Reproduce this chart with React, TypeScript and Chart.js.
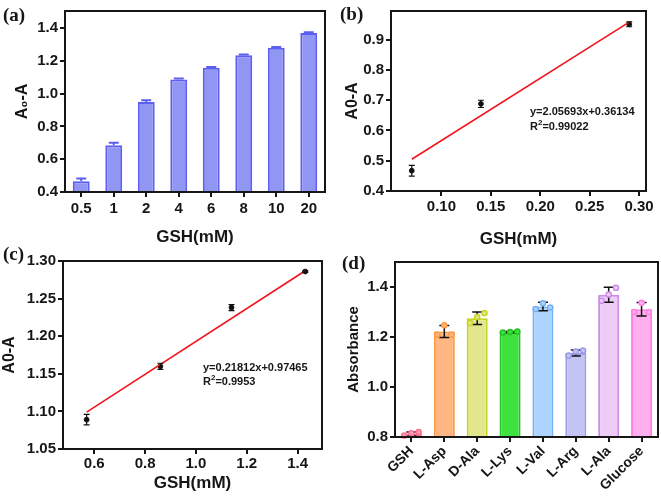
import React, { useEffect, useRef } from 'react';
import { Chart, registerables } from 'chart.js';
Chart.register(...registerables);

const FONT = "'Liberation Sans', Arial, Helvetica, sans-serif";
const INK = '#161616';
const TICK_SIZE = 15;

// ---------- panel (a) ----------
const aCategories = ['0.5', '1', '2', '4', '6', '8', '10', '20'];
const aValues = [0.465, 0.685, 0.95, 1.087, 1.158, 1.235, 1.281, 1.371];
const aErrors = [0.017, 0.015, 0.01, 0.006, 0.005, 0.005, 0.004, 0.005];
const aYTicks = [0.4, 0.6, 0.8, 1.0, 1.2, 1.4];

// ---------- panel (b) ----------
const bX = [0.07, 0.14, 0.29];
const bY = [0.467, 0.688, 0.951];
const bErr = [0.018, 0.012, 0.008];
const bFitX = [0.07, 0.29];
const bFitY = [0.505, 0.958];
const bXTicks = [0.1, 0.15, 0.2, 0.25, 0.3];
const bYTicks = [0.4, 0.5, 0.6, 0.7, 0.8, 0.9];

// ---------- panel (c) ----------
const cX = [0.57, 0.86, 1.14, 1.43];
const cY = [1.089, 1.16, 1.238, 1.286];
const cErr = [0.007, 0.004, 0.004, 0.001];
const cFitX = [0.57, 1.43];
const cFitY = [1.099, 1.287];
const cXTicks = [0.6, 0.8, 1.0, 1.2, 1.4];
const cYTicks = [1.05, 1.1, 1.15, 1.2, 1.25, 1.3];

// ---------- panel (d) ----------
const dCategories = ['GSH', 'L-Asp', 'D-Ala', 'L-Lys', 'L-Val', 'L-Arg', 'L-Ala', 'Glucose'];
const dValues = [0.812, 1.222, 1.275, 1.219, 1.322, 1.136, 1.369, 1.311];
const dErrors = [0.008, 0.024, 0.025, 0.003, 0.017, 0.012, 0.03, 0.027];
const dRep1 = [0.806, 1.21, 1.256, 1.218, 1.312, 1.126, 1.345, 1.3];
const dRep2 = [0.815, 1.247, 1.28, 1.22, 1.335, 1.142, 1.37, 1.337];
const dRep3 = [0.82, 1.21, 1.296, 1.222, 1.318, 1.146, 1.397, 1.3];
const dYTicks = [0.8, 1.0, 1.2, 1.4];
const dFill = ['#ff9fb4', '#ffb680', '#e2e68c', '#3ee23e', '#add3ff', '#c3c3f6', '#edcdf6', '#ffaef0'];
const dBorder = ['#ff6f8f', '#ff9a45', '#c9d422', '#22c322', '#74b0f2', '#9b9be8', '#cc8ce8', '#ff82e2'];

const boxPlugin = {
  id: 'box',
  afterDraw(chart: any) {
    const { ctx, chartArea: a } = chart;
    ctx.save();
    ctx.strokeStyle = INK;
    ctx.lineWidth = 2;
    ctx.strokeRect(a.left, a.top, a.right - a.left, a.bottom - a.top);
    ctx.restore();
  },
};

function errorPlugin(dsIndex: number, errs: number[], color: string, cap: number, lw: number, upperOnly: boolean) {
  return {
    id: 'err' + dsIndex,
    afterDatasetsDraw(chart: any) {
      const meta = chart.getDatasetMeta(dsIndex);
      const ys = chart.scales.y;
      const ds = chart.data.datasets[dsIndex];
      const ctx = chart.ctx;
      ctx.save();
      ctx.strokeStyle = color;
      ctx.lineWidth = lw;
      meta.data.forEach((el: any, i: number) => {
        const raw = ds.data[i];
        const v = typeof raw === 'number' ? raw : raw.y;
        const x = el.x;
        const top = ys.getPixelForValue(v + errs[i]);
        const bot = upperOnly ? ys.getPixelForValue(v) : ys.getPixelForValue(v - errs[i]);
        ctx.beginPath();
        ctx.moveTo(x, top);
        ctx.lineTo(x, bot);
        ctx.moveTo(x - cap / 2, top);
        ctx.lineTo(x + cap / 2, top);
        if (!upperOnly) {
          ctx.moveTo(x - cap / 2, bot);
          ctx.lineTo(x + cap / 2, bot);
        }
        ctx.stroke();
      });
      ctx.restore();
    },
  };
}

const dotsPlugin = {
  id: 'dots',
  afterDatasetsDraw(chart: any) {
    const ctx = chart.ctx;
    const xs = chart.scales.x;
    const ys = chart.scales.y;
    const reps = [dRep1, dRep2, dRep3];
    const offs = [-0.22, 0, 0.22];
    ctx.save();
    ctx.lineWidth = 1.5;
    dCategories.forEach((_, i) => {
      const step = xs.getPixelForValue(1) - xs.getPixelForValue(0);
      reps.forEach((r, k) => {
        const x = xs.getPixelForValue(i) + offs[k] * step;
        const y = ys.getPixelForValue(r[i]);
        ctx.beginPath();
        ctx.arc(x, y, 2.6, 0, Math.PI * 2);
        ctx.fillStyle = dFill[i];
        ctx.fill();
        ctx.strokeStyle = dBorder[i];
        ctx.stroke();
      });
    });
    ctx.restore();
  },
};

function yAxis(ticks: number[], dec: number, min: number, max: number, width: number, title: string, titlePad: number, titleSize: number) {
  return {
    min,
    max,
    afterBuildTicks: (s: any) => {
      s.ticks = ticks.map((v) => ({ value: v }));
    },
    afterFit: (s: any) => {
      s.width = width;
    },
    border: { display: false },
    grid: { drawOnChartArea: false, drawTicks: true, tickLength: 5, color: INK, lineWidth: 2 },
    ticks: {
      color: INK,
      padding: 2,
      font: { family: FONT, size: TICK_SIZE, weight: 'bold' },
      callback: (v: any) => Number(v).toFixed(dec),
    },
    title: {
      display: true,
      text: title,
      color: INK,
      padding: { top: titlePad, bottom: 0 },
      font: { family: FONT, size: titleSize, weight: 'bold' },
    },
  };
}

function xLinear(ticks: number[], dec: number, min: number, max: number, height: number, labelPad: number, titlePad: number) {
  return {
    type: 'linear',
    min,
    max,
    afterBuildTicks: (s: any) => {
      s.ticks = ticks.map((v) => ({ value: v }));
    },
    afterFit: (s: any) => {
      s.height = height;
    },
    border: { display: false },
    grid: { drawOnChartArea: false, drawTicks: true, tickLength: 5, color: INK, lineWidth: 2 },
    ticks: {
      color: INK,
      padding: labelPad,
      maxRotation: 0,
      font: { family: FONT, size: TICK_SIZE, weight: 'bold' },
      callback: (v: any) => Number(v).toFixed(dec),
    },
    title: {
      display: true,
      text: 'GSH(mM)',
      color: INK,
      padding: { top: 0, bottom: titlePad },
      font: { family: FONT, size: 17, weight: 'bold' },
    },
  };
}

function configA(): any {
  return {
    type: 'bar',
    data: {
      labels: aCategories,
      datasets: [
        {
          data: aValues,
          backgroundColor: '#9296f3',
          borderColor: '#5b5ff0',
          borderWidth: 2,
          categoryPercentage: 0.8,
          barPercentage: 0.65,
        },
      ],
    },
    options: {
      responsive: false,
      animation: false,
      layout: { padding: { left: 0, top: 5, right: 5, bottom: 0 } },
      plugins: { legend: { display: false }, tooltip: { enabled: false } },
      scales: {
        x: {
          afterFit: (s: any) => {
            s.height = 58;
          },
          border: { display: false },
          grid: { offset: false, drawOnChartArea: false, drawTicks: true, tickLength: 5, color: INK, lineWidth: 2 },
          ticks: { color: INK, padding: 3, maxRotation: 0, font: { family: FONT, size: TICK_SIZE, weight: 'bold' } },
          title: {
            display: true,
            text: 'GSH(mM)',
            color: INK,
            padding: { top: 0, bottom: 2 },
            font: { family: FONT, size: 17, weight: 'bold' },
          },
        },
        y: yAxis(aYTicks, 1, 0.4, 1.505, 65, 'A\u2080-A', 13, 16),
      },
    },
    plugins: [errorPlugin(0, aErrors, '#5b5ff0', 10, 2, true), boxPlugin],
  };
}

function scatterConfig(px: number[], py: number[], err: number[], fx: number[], fy: number[], x: any, y: any, pad: any): any {
  return {
    type: 'scatter',
    data: {
      datasets: [
        {
          type: 'line',
          data: fx.map((v, i) => ({ x: v, y: fy[i] })),
          borderColor: '#f2141e',
          borderWidth: 1.6,
          pointRadius: 0,
          showLine: true,
          fill: false,
        },
        {
          data: px.map((v, i) => ({ x: v, y: py[i] })),
          backgroundColor: '#111',
          borderColor: '#111',
          pointRadius: 2.4,
        },
      ],
    },
    options: {
      responsive: false,
      animation: false,
      layout: { padding: pad },
      plugins: { legend: { display: false }, tooltip: { enabled: false } },
      scales: { x, y },
    },
    plugins: [errorPlugin(1, err, '#111', 6, 1.2, false), boxPlugin],
  };
}

function configB(): any {
  return scatterConfig(
    bX, bY, bErr, bFitX, bFitY,
    xLinear(bXTicks, 2, 0.049, 0.307, 59, 2, 0.5),
    yAxis(bYTicks, 1, 0.4, 0.995, 61, 'A0-A', 13, 16),
    { left: 0, top: 5, right: 15, bottom: 0 }
  );
}

function configC(): any {
  return scatterConfig(
    cX, cY, cErr, cFitX, cFitY,
    xLinear(cXTicks, 1, 0.477, 1.496, 47, 1, 2.3),
    yAxis(cYTicks, 2, 1.05, 1.3, 63, 'A0-A', 0, 16),
    { left: 0, top: 9, right: 8, bottom: 0 }
  );
}

function configD(): any {
  return {
    type: 'bar',
    data: {
      labels: dCategories,
      datasets: [
        {
          data: dValues,
          backgroundColor: dFill,
          borderColor: dBorder,
          borderWidth: 2,
          categoryPercentage: 0.8,
          barPercentage: 0.8,
        },
      ],
    },
    options: {
      responsive: false,
      animation: false,
      layout: { padding: { left: 0, top: 12, right: 3, bottom: 0 } },
      plugins: { legend: { display: false }, tooltip: { enabled: false } },
      scales: {
        x: {
          afterFit: (s: any) => {
            s.height = 59;
          },
          border: { display: false },
          grid: { offset: false, drawOnChartArea: false, drawTicks: true, tickLength: 5, color: INK, lineWidth: 2 },
          ticks: {
            color: INK,
            padding: 1,
            minRotation: 45,
            maxRotation: 45,
            autoSkip: false,
            font: { family: FONT, size: 14, weight: 'bold' },
          },
        },
        y: yAxis(dYTicks, 1, 0.8, 1.5, 65, 'Absorbance', 15, 15),
      },
    },
    plugins: [errorPlugin(0, dErrors, '#111', 10, 1.5, false), dotsPlugin, boxPlugin],
  };
}

function Panel(props: { left: number; top: number; width: number; height: number; make: () => any }) {
  const ref = useRef<HTMLCanvasElement | null>(null);
  useEffect(() => {
    if (!ref.current) return;
    const chart = new Chart(ref.current, props.make());
    return () => chart.destroy();
  }, []);
  return (
    <canvas
      ref={ref}
      width={props.width}
      height={props.height}
      style={{ position: 'absolute', left: props.left, top: props.top, width: props.width, height: props.height, display: 'block' }}
    />
  );
}

const labelStyle = (left: number, top: number): React.CSSProperties => ({
  position: 'absolute',
  left,
  top,
  fontFamily: "'Liberation Serif', 'Times New Roman', serif",
  fontWeight: 'bold',
  fontSize: 19,
  lineHeight: 1,
  color: INK,
});

const eqStyle = (left: number, top: number): React.CSSProperties => ({
  position: 'absolute',
  left,
  top,
  fontFamily: FONT,
  fontWeight: 'bold',
  fontSize: 11,
  lineHeight: 1,
  color: INK,
  whiteSpace: 'nowrap',
});

export default function App() {
  return (
    <div style={{ position: 'absolute', left: 0, top: 0, width: 661, height: 496, background: '#fff', overflow: 'hidden' }}>
      <Panel left={0} top={0} width={330} height={250} make={configA} />
      <Panel left={330} top={0} width={331} height={250} make={configB} />
      <Panel left={0} top={250} width={330} height={246} make={configC} />
      <Panel left={330} top={250} width={331} height={246} make={configD} />
      <div style={labelStyle(3, 5)}>(a)</div>
      <div style={labelStyle(340, 4)}>(b)</div>
      <div style={labelStyle(3, 244)}>(c)</div>
      <div style={labelStyle(342, 253)}>(d)</div>
      <div style={eqStyle(530, 106)}>y=2.05693x+0.36134</div>
      <div style={eqStyle(530, 121)}>
        R<sup style={{ fontSize: 8, verticalAlign: 'top', position: 'relative', top: -2 }}>2</sup>=0.99022
      </div>
      <div style={eqStyle(203, 362)}>y=0.21812x+0.97465</div>
      <div style={eqStyle(203, 376)}>
        R<sup style={{ fontSize: 8, verticalAlign: 'top', position: 'relative', top: -2 }}>2</sup>=0.9953
      </div>
    </div>
  );
}
